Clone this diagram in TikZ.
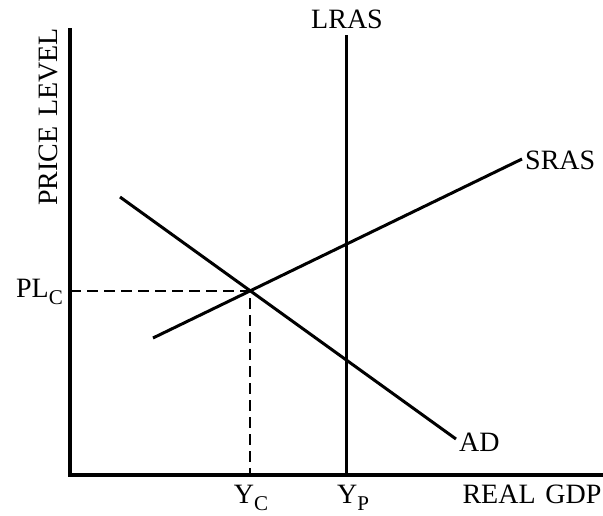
\documentclass[tikz,border=0pt]{standalone}
\usepackage{fontspec}
\setmainfont{Liberation Serif}
\newcommand{\sbs}[1]{\raisebox{-0.25em}{\fontsize{21}{21}\selectfont #1}}
\begin{document}
\begin{tikzpicture}[x=1pt,y=-1pt,
  axisline/.style={line width=3.2pt},
  curve/.style={line width=3pt},
  guide/.style={line width=1.5pt, dash pattern=on 11pt off 6pt},
  lbl/.style={font=\fontsize{28}{30}\selectfont, inner sep=0pt}]
\useasboundingbox (0,0) rectangle (603,515);
% axes
\coordinate (O) at (70,475);
\coordinate (ytop) at (70,28);
\coordinate (xend) at (603,475);
\draw[axisline] (ytop) -- (O) -- (xend);
% LRAS
\coordinate (lrasT) at (346,35);
\coordinate (lrasB) at (346,475);
\draw[curve] (lrasT) -- (lrasB);
% SRAS
\coordinate (srasL) at (153,338);
\coordinate (srasR) at (522,159);
\draw[curve] (srasL) -- (srasR);
% AD
\coordinate (adL) at (120,197);
\coordinate (adR) at (456,439);
\draw[curve] (adL) -- (adR);
% equilibrium guides
\coordinate (E) at (250,291);
\coordinate (Ey) at (70,291);
\coordinate (Ex) at (250,475);
\draw[guide] (Ey) -- (E) -- (Ex);
% labels
\node[lbl, anchor=base] (tLRAS) at (347,28) {LRAS};
\node[lbl, anchor=west] (tSRAS) at (525,160) {SRAS};
\node[lbl, anchor=west] (tAD) at (459,442) {AD};
\node[lbl, anchor=base east] (tPL) at (63,297) {PL\sbs{C}};
\node[lbl, anchor=base] (tYC) at (251,503) {Y\sbs{C}};
\node[lbl, anchor=base] (tYP) at (353,503) {Y\sbs{P}};
\node[lbl, anchor=base] (tGDP) at (532,503) {REAL\hspace{0.35em}GDP};
\node[lbl, anchor=base, rotate=90] (tPrice) at (57,117) {PRICE\hspace{0.35em}LEVEL};
\end{tikzpicture}
\end{document}
